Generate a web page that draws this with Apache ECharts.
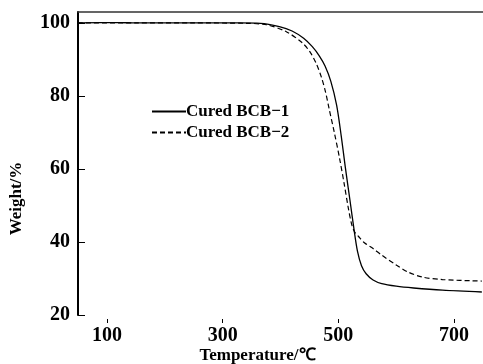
<!DOCTYPE html>
<html>
<head>
<meta charset="utf-8">
<script src="https://cdn.jsdelivr.net/npm/echarts@6/dist/echarts.min.js"></script>
<style>
  html, body { margin: 0; padding: 0; background: #fff; }
  #chart { width: 483px; height: 364px; }
</style>
</head>
<body>
<div id="chart"></div>
<script>
// TGA curves: [temperature °C, weight %]
const bcb1 = [
  [50, 100], [120, 100.1], [150, 100], [250, 100], [330, 100], [365, 99.9],
  [398, 99], [420, 97.8], [440, 95.8], [455, 93.5], [467, 91], [477, 88.2],
  [487, 84], [497, 77.5], [505, 69], [512, 60.5], [520, 51.5], [527, 43.5],
  [533, 37.5], [540, 33.5], [548, 31.3], [560, 29.6], [575, 28.6], [600, 27.9],
  [630, 27.4], [680, 26.8], [748, 26.3]
];
const bcb2 = [
  [50, 100], [150, 100], [250, 100], [340, 99.9], [376, 99.5], [410, 97.6],
  [438, 94.5], [452, 91.8], [462, 88.8], [471, 85], [478, 81], [484, 76.5],
  [493, 70], [502, 63], [510, 56], [517, 49.5], [523, 44.8], [528, 42.8],
  [535, 41.5], [545, 39.8], [560, 38.2], [575, 36.4], [600, 33.7], [620, 31.8],
  [645, 30.4], [680, 29.7], [748, 29.3]
];
const xTicks = [100, 300, 500, 700];
const yTicks = [20, 40, 60, 80, 100];
const seriesNames = ['Cured BCB\u22121', 'Cured BCB\u22122'];

const font = 'Liberation Serif';
const chart = echarts.init(document.getElementById('chart'));

chart.setOption({
  animation: false,
  backgroundColor: '#fff',
  grid: { left: 78, right: 0, top: 12, bottom: 49, outerBoundsMode: 'none' },
  legend: {
    orient: 'vertical',
    left: 146,
    top: 98,
    itemGap: 4,
    itemWidth: 34,
    itemHeight: 12,
    itemStyle: { opacity: 0 },
    textStyle: { fontFamily: font, fontSize: 17, fontWeight: 'bold', color: '#000', padding: [0, 0, 0, -5] },
    data: seriesNames
  },
  xAxis: [{
    type: 'value',
    min: 50,
    max: 750,
    offset: 8,
    splitLine: { show: false },
    axisLine: { show: false },
    axisTick: { show: true, inside: true, length: 4, customValues: xTicks, lineStyle: { color: '#000' } },
    axisLabel: { customValues: xTicks, margin: 3, fontFamily: font, fontSize: 20, fontWeight: 'bold', color: '#000' },
    name: 'Temperature/\u2103',
    nameLocation: 'middle',
    nameGap: 24,
    nameMoveOverlap: false,
    nameTextStyle: { fontFamily: font, fontSize: 17, fontWeight: 'bold', color: '#000', padding: [0, 46, 0, 0] }
  }, {
    type: 'value',
    position: 'top',
    min: 50,
    max: 750,
    splitLine: { show: false },
    axisLine: { show: true, lineStyle: { color: '#333', width: 1.5 } },
    axisTick: { show: false },
    axisLabel: { show: false }
  }],
  yAxis: {
    type: 'value',
    min: 20,
    max: 103,
    splitLine: { show: false },
    axisLine: { show: true, lineStyle: { color: '#000', width: 2 } },
    axisTick: { show: true, inside: true, length: 7, customValues: yTicks, lineStyle: { color: '#000' } },
    axisLabel: { customValues: yTicks, margin: 8, fontFamily: font, fontSize: 20, fontWeight: 'bold', color: '#000' },
    name: 'Weight/%',
    nameLocation: 'middle',
    nameRotate: 90,
    nameGap: 53,
    nameMoveOverlap: false,
    nameTextStyle: { fontFamily: font, fontSize: 17, fontWeight: 'bold', color: '#000', padding: [0, 70, 0, 0] }
  },
  series: [{
    name: seriesNames[0],
    type: 'line',
    data: bcb1,
    symbol: 'none',
    smooth: 0.3,
    lineStyle: { color: '#000', width: 1.3, type: 'solid' },
    itemStyle: { color: '#000' }
  }, {
    name: seriesNames[1],
    type: 'line',
    data: bcb2,
    symbol: 'none',
    smooth: 0.3,
    lineStyle: { color: '#000', width: 1.2, type: [5, 3] },
    itemStyle: { color: '#000' }
  }]
});
</script>
</body>
</html>
